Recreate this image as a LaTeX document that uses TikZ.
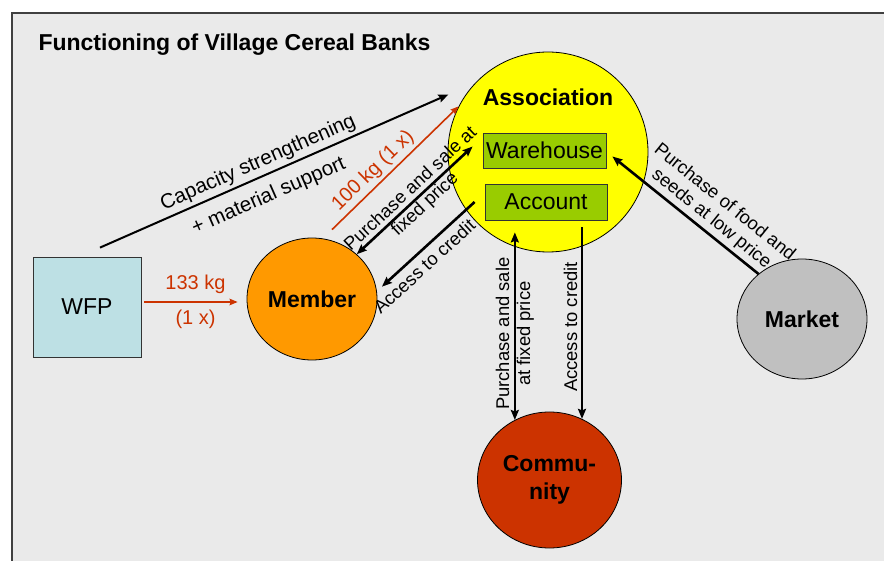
\documentclass[tikz,border=0pt]{standalone}
\usepackage{fontspec}
\setmainfont{Liberation Sans}
\usetikzlibrary{arrows.meta,calc,shapes.geometric}

\definecolor{panelgray}{RGB}{234,234,234}
\definecolor{wfpblue}{RGB}{189,224,228}
\definecolor{memberorange}{RGB}{255,153,0}
\definecolor{assocyellow}{RGB}{255,255,0}
\definecolor{storegreen}{RGB}{153,204,0}
\definecolor{marketgray}{RGB}{192,192,192}
\definecolor{communityred}{RGB}{204,51,0}

\begin{document}
\begin{tikzpicture}[x=1pt,y=1pt,>={Stealth[length=10pt,width=8pt,inset=1.5pt]},
    every node/.style={font=\fontsize{23}{26}\selectfont},
    box/.style={draw=black!80,line width=0.8pt,inner sep=0pt},
    blob/.style={ellipse,draw=black,line width=0.8pt,inner sep=0pt,
        font=\fontsize{23}{28}\selectfont\bfseries,align=center},
    flow/.style={line width=2.6pt},
    redflow/.style={line width=1.6pt,draw=communityred,
        -{Stealth[length=8pt,width=6.5pt,inset=1pt]}},
    note/.style={font=\fontsize{18.4}{21}\selectfont,align=center,sloped},
    bignote/.style={font=\fontsize{20.6}{23}\selectfont,sloped},
    rednote/.style={font=\fontsize{20}{23}\selectfont,text=communityred}]

    % Page and grey panel
    \clip (0,0) rectangle (884,560);
    \fill[white] (0,0) rectangle (884,560);
    \draw[fill=panelgray,draw=black!75,line width=1.6pt] (12,-10) rectangle (900,547);

    % Title
    \node[anchor=base west,font=\fontsize{23}{26}\selectfont\bfseries] (title) at (35,509)
        {Functioning of Village Cereal Banks};

    % Actors
    \node[box,fill=wfpblue,minimum width=108pt,minimum height=100pt] (wfp) at (87,253) {WFP};
    \node[blob,fill=memberorange,minimum width=130pt,minimum height=122pt] (member) at (312,261) {Member};
    \node[blob,fill=assocyellow,minimum width=200pt,minimum height=200pt] (assoc) at (548,408) {};
    \node[blob,fill=marketgray,minimum width=130pt,minimum height=120pt] (market) at (802,241) {Market};
    \node[blob,fill=communityred,minimum width=144pt,minimum height=136pt] (community) at (549.5,80) {Commu-\\nity};

    % Inside the association
    \node[font=\fontsize{23}{26}\selectfont\bfseries] (assoclabel) at (548,463) {Association};
    \node[box,fill=storegreen,minimum width=123pt,minimum height=35pt] (warehouse) at (544.5,409.5) {Warehouse};
    \node[box,fill=storegreen,minimum width=122pt,minimum height=36pt] (account) at (546,358) {Account};

    % WFP support to the association
    \draw[->,line width=2pt] ([shift={(13,9)}]wfp.north) -- ($(assoc.center)+(150:115)$)
        node[pos=0.47,above,bignote] {Capacity strengthening}
        node[pos=0.46,below=7pt,bignote] {+ material support};

    % Grain from WFP to the member
    \coordinate (wfpout) at ([shift={(3,5)}]wfp.east);
    \draw[redflow,shorten >=9pt] (wfpout) -- (wfpout -| member.west)
        node[midway,above=4pt,rednote] {133 kg}
        node[midway,below=4pt,rednote] {(1 x)};

    % Grain from the member to the association
    \draw[redflow] ([shift={(20,8)}]member.north) -- (assoc.153)
        node[pos=0.40,sloped,above,rednote] {100 kg (1 x)};

    % Member and association
    \draw[<->,flow] (member.45) -- ([shift={(-10,4)}]warehouse.west)
        node[pos=0.53,note] {Purchase and sale at\\fixed price};
    \draw[<-,flow] ($(member.center)+(10:71)$) -- ([xshift=-10pt]account.west)
        node[pos=0.36,below=2pt,note] {Access to credit};

    % Community and association
    \draw[<->,flow] (community.120) -- ($(community.120 |- account.south)+(0,-12)$)
        node[pos=0.46,note] {Purchase and sale\\at fixed price};
    \draw[<-,flow] (community.62) -- ($(community.62 |- account.south)+(0,-7)$)
        node[pos=0.48,above,note] {Access to credit};

    % Market to warehouse
    \draw[<-,flow] ([shift={(6,-6)}]warehouse.east) -- (market.134)
        node[pos=0.62,above,note] {Purchase of food and\\seeds at low price};

\end{tikzpicture}
\end{document}
